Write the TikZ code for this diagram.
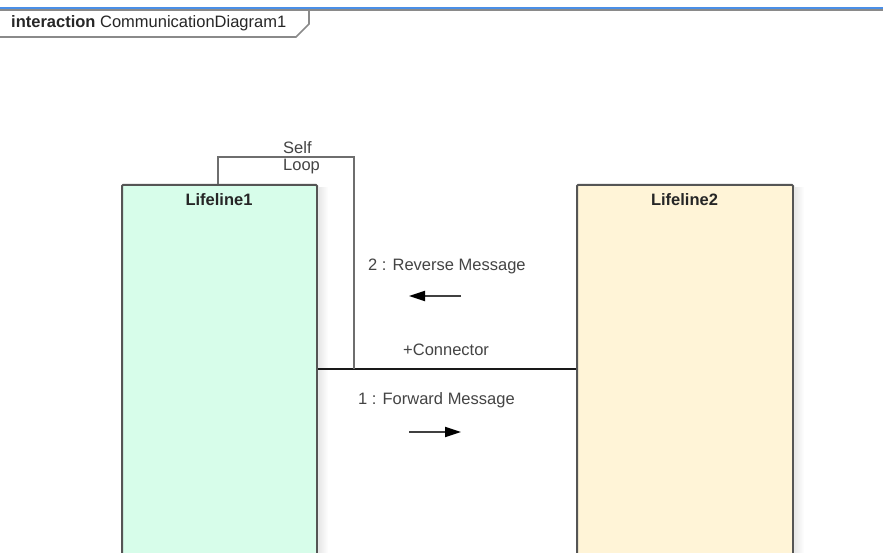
\documentclass[tikz,border=0pt]{standalone}
\usepackage{fontspec}
\setmainfont{Liberation Sans}
\usetikzlibrary{arrows.meta}

\definecolor{frameblue}{HTML}{4A8FE7}
\definecolor{framegray}{HTML}{8A8A8A}
\definecolor{edgegray}{HTML}{555555}
\definecolor{labelgray}{HTML}{444444}
\definecolor{mintfill}{HTML}{D7FDEA}
\definecolor{creamfill}{HTML}{FFF4D7}

\tikzset{
  lifeline/.style={draw=edgegray, line width=2pt, rounded corners=1pt,
    anchor=north west, inner sep=0pt},
  sideshade/.style={left color=black!9, right color=white, draw=none},
  lifename/.style={font=\fontsize{16.5}{18}\selectfont\bfseries, text=black!85, anchor=base},
  msglabel/.style={font=\fontsize{16.5}{17}\selectfont, text=labelgray, anchor=base west, inner sep=0pt},
  msgarrow/.style={draw=black!75, line width=1.8pt,
    -{Triangle[length=16pt,width=10pt,color=black]}},
  loopline/.style={draw=edgegray!85, line width=1.9pt},
  connline/.style={draw=black!90, line width=2.2pt},
}

\begin{document}
\begin{tikzpicture}[x=1pt, y=-1pt]
\useasboundingbox (0,0) rectangle (883,553);
\clip (0,0) rectangle (883,553);
\fill[white] (0,0) rectangle (883,553);

% diagram frame: top edge and name tab
\draw[framegray, line width=1.2pt] (0,10) -- (883,10);
\draw[frameblue, line width=1.8pt] (0,8) -- (883,8);
\draw[framegray, line width=1.6pt] (0,37) -- (296,37) -- (309,24) -- (309,9);
\node[font=\fontsize{16.5}{18}\selectfont, text=black!85, anchor=base west, inner sep=0pt]
  (frametitle) at (11,28) {\textbf{interaction} CommunicationDiagram1};

% lifelines
\node[lifeline, fill=mintfill, minimum width=195pt, minimum height=400pt] (l1) at (121,184) {};
\node[lifeline, fill=creamfill, minimum width=216pt, minimum height=400pt] (l2) at (576,184) {};
\node[lifename] (l1name) at (219,206) {Lifeline1};
\node[lifename] (l2name) at (684.5,206) {Lifeline2};

% soft shadows along the right edges
\shade[sideshade] ([xshift=1pt,yshift=-4pt]l1.north east) rectangle ++(9,400);
\shade[sideshade] ([xshift=1pt,yshift=-4pt]l2.north east) rectangle ++(9,400);

% connector between the lifelines
\coordinate (cy) at (0,369);
\draw[connline] (l1.east |- cy) -- (l2.west |- cy);

% self loop on Lifeline1
\coordinate (loopL) at (218,157);
\coordinate (loopR) at (354,157);
\draw[loopline] (l1.north -| loopL) -- (loopL) -- (loopR) -- (loopR |- cy);
\node[msglabel, align=left, anchor=north west] (looplabel) at (283,141) {Self\\Loop};

% messages
\node[msglabel] (revlabel) at (368,271) {2 : Reverse Message};
\coordinate (revA) at (461,296);
\coordinate (revB) at (409,296);
\draw[msgarrow] (revA) -- (revB);

\node[msglabel] (connlabel) at (403,355) {+Connector};

\node[msglabel] (fwdlabel) at (358,404) {1 : Forward Message};
\coordinate (fwdA) at (409,432);
\coordinate (fwdB) at (461,432);
\draw[msgarrow] (fwdA) -- (fwdB);
\end{tikzpicture}
\end{document}
